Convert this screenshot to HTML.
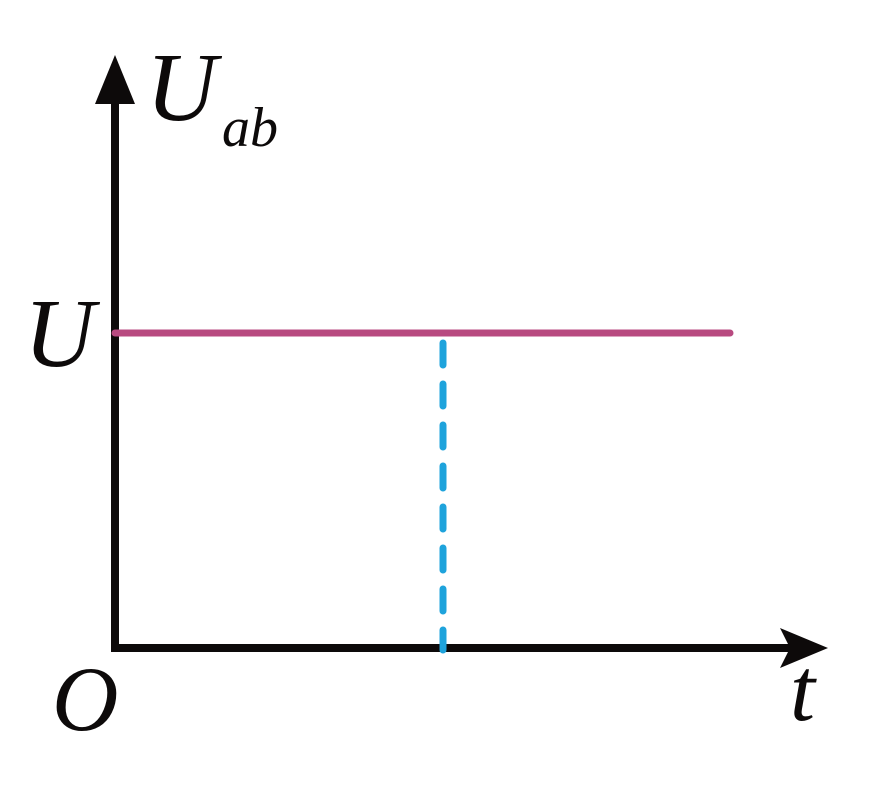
<!DOCTYPE html>
<html><head><style>body{margin:0;background:#fff}</style></head><body>
<svg width="870" height="780" viewBox="0 0 870 780" xmlns="http://www.w3.org/2000/svg">
<line x1="115" y1="650" x2="115" y2="95" stroke="#0d0a0a" stroke-width="8"/>
<polygon points="115,55 95,104 135,104" fill="#0d0a0a"/>
<line x1="111" y1="648" x2="790" y2="648" stroke="#0d0a0a" stroke-width="8"/>
<polygon points="828,648 780,628 790,648 780,668" fill="#0d0a0a"/>
<line x1="115" y1="333" x2="730" y2="333" stroke="#b84a80" stroke-width="7" stroke-linecap="round"/>
<line x1="443" y1="343" x2="443" y2="650" stroke="#1ea3dc" stroke-width="7" stroke-linecap="round" stroke-dasharray="22,19"/>
<g font-family="Liberation Serif, serif" font-style="italic" fill="#0d0a0a">
<text x="146" y="120" font-size="98">U</text>
<text x="222" y="146" font-size="56">ab</text>
<text x="24" y="366" font-size="98">U</text>
<text x="52" y="730" font-size="92">O</text>
<text x="790" y="720" font-size="90">t</text>
</g>
</svg>
</body></html>
